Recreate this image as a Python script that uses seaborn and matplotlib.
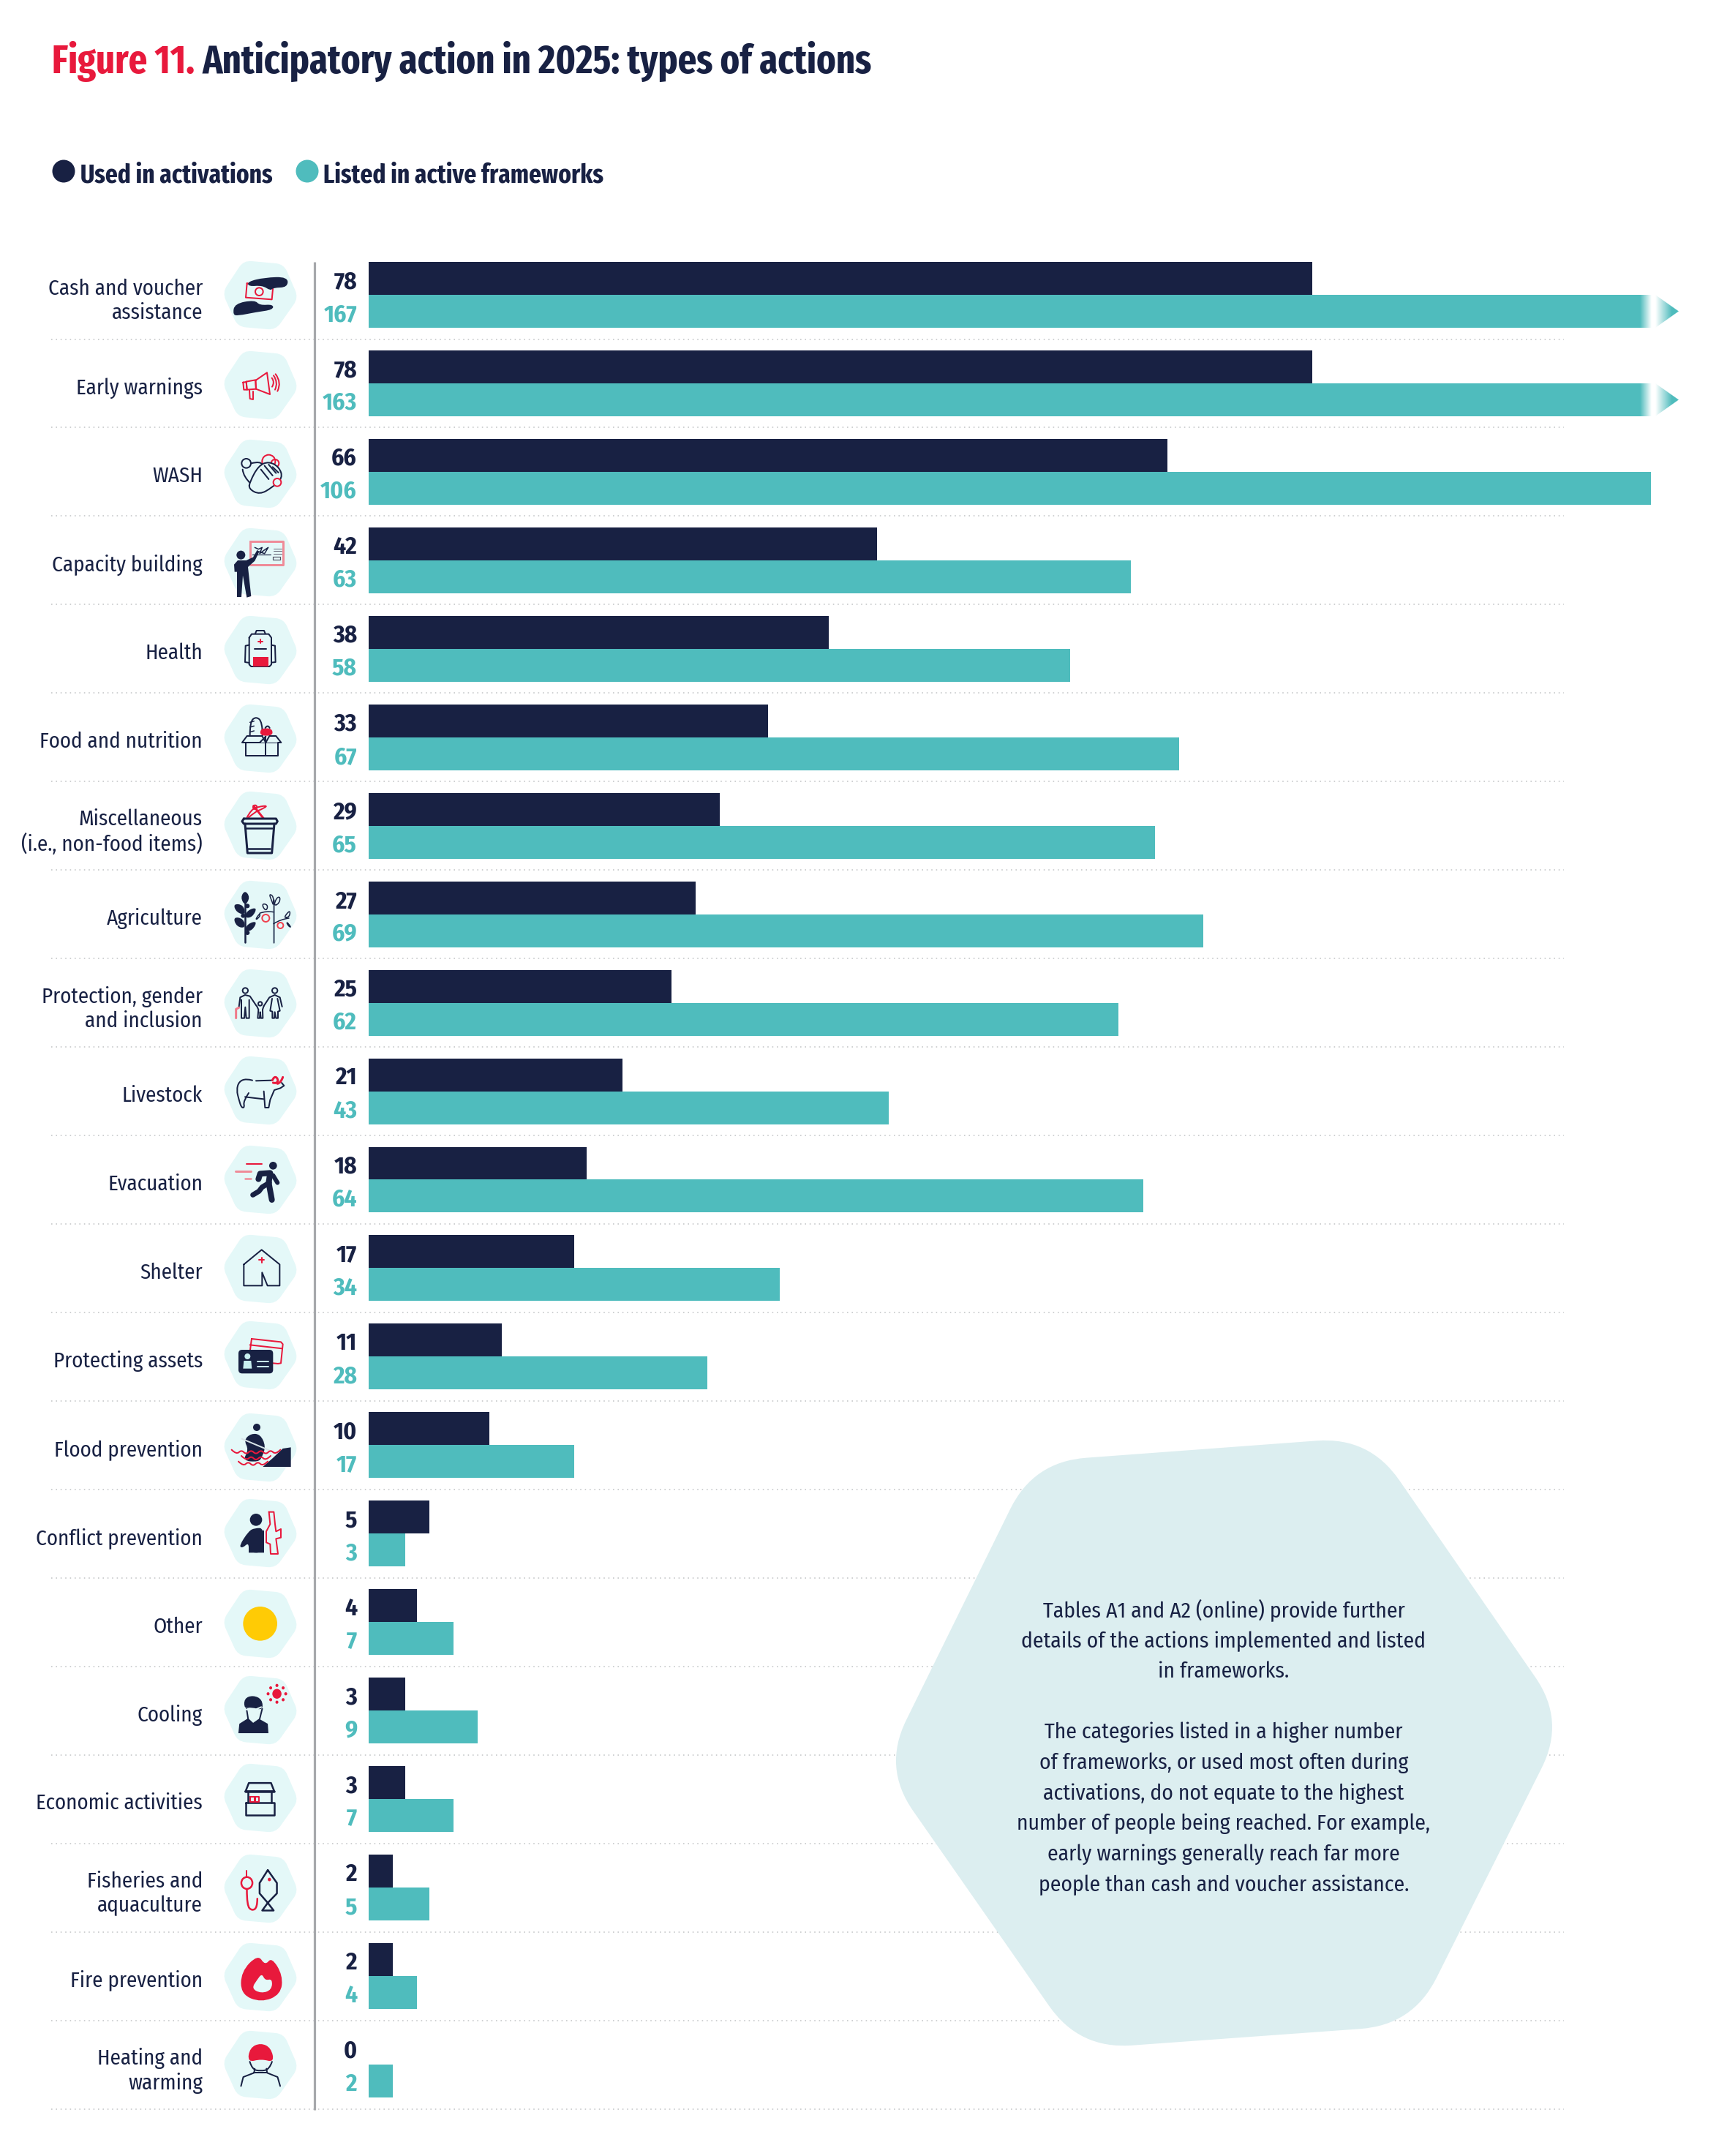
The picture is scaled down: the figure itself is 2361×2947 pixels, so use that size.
import numpy as np
import pandas as pd
import matplotlib
matplotlib.use("Agg")
import matplotlib.pyplot as plt
import seaborn as sns
from matplotlib.colors import LinearSegmentedColormap
from matplotlib.patches import Circle, Ellipse, PathPatch, Polygon, Rectangle
from matplotlib.path import Path
from matplotlib.transforms import ScaledTranslation

W, H = 2361, 2947
DPI = 200

NAVY = "#182143"
TEAL = "#4fbcbd"
RED = "#e8193c"
HEX_FILL = "#e4f8f8"
BOX_FILL = "#dceef0"
COND = ["Fira Sans Condensed", "Roboto", "DejaVu Sans"]
XCOND = ["Fira Sans Extra Condensed", "Fira Sans Condensed", "Roboto", "DejaVu Sans"]

actions = [
    "Cash and voucher\nassistance", "Early warnings", "WASH", "Capacity building",
    "Health", "Food and nutrition", "Miscellaneous\n(i.e., non-food items)",
    "Agriculture", "Protection, gender\nand inclusion", "Livestock", "Evacuation",
    "Shelter", "Protecting assets", "Flood prevention", "Conflict prevention",
    "Other", "Cooling", "Economic activities", "Fisheries and\naquaculture",
    "Fire prevention", "Heating and\nwarming",
]
used_in_activations = [78, 78, 66, 42, 38, 33, 29, 27, 25, 21, 18, 17, 11, 10, 5, 4, 3, 3, 2, 2, 0]
listed_in_frameworks = [167, 163, 106, 63, 58, 67, 65, 69, 62, 43, 64, 34, 28, 17, 3, 7, 9, 7, 5, 4, 2]
series_names = ["Used in activations", "Listed in active frameworks"]

# top edge of each icon hexagon, they wander a little in the original
hex_tops = [356, 479, 600, 721, 841, 962, 1081, 1203, 1324, 1443, 1565, 1687,
            1805, 1931, 2048, 2172, 2290, 2410, 2534, 2655, 2775]

note = ("Tables A1 and A2 (online) provide further\n"
        "details of the actions implemented and listed\n"
        "in frameworks.\n\n"
        "The categories listed in a higher number\n"
        "of frameworks, or used most often during\n"
        "activations, do not equate to the highest\n"
        "number of people being reached. For example,\n"
        "early warnings generally reach far more\n"
        "people than cash and voucher assistance.")

# where the long bars are cut, in axis units
FADE_START = 105.1
FADE_END = 106.05
ARROW_START = 106.35
ARROW_TIP = 108.28

sns.set_theme(style="white")
plt.rcParams["font.family"] = COND

fig = plt.figure(figsize=(W / DPI, H / DPI), dpi=DPI, facecolor="white")

# background layer in pixel coordinates
bg = fig.add_axes([0, 0, 1, 1], zorder=0)
bg.set_xlim(0, W)
bg.set_ylim(H, 0)
bg.axis("off")


def rounded_polygon(verts, r):
    verts = np.asarray(verts, float)
    n = len(verts)
    codes, pts = [], []
    for i in range(n):
        p, a, b = verts[i], verts[i - 1], verts[(i + 1) % n]
        start = p + (a - p) / np.linalg.norm(a - p) * r
        end = p + (b - p) / np.linalg.norm(b - p) * r
        codes += [Path.MOVETO if i == 0 else Path.LINETO, Path.CURVE3, Path.CURVE3]
        pts += [start, p, end]
    codes.append(Path.CLOSEPOLY)
    pts.append(pts[0])
    return Path(pts, codes)


class Crop:

    def __init__(self, x0, y0, sx, sy):
        self.x0, self.y0, self.sx, self.sy = x0, y0, sx, sy

    def map(self, pts):
        return [(self.x0 + x / self.sx, self.y0 + y / self.sy) for x, y in pts]

    def line(self, pts, color=NAVY, lw=2.0, closed=False, fill="none", smooth=False):
        xy = self.map(pts)
        if smooth:
            if closed:
                mids = [((xy[i][0] + xy[(i + 1) % len(xy)][0]) / 2,
                         (xy[i][1] + xy[(i + 1) % len(xy)][1]) / 2) for i in range(len(xy))]
                verts, codes = [mids[-1]], [Path.MOVETO]
                for i in range(len(xy)):
                    verts += [xy[i], mids[i]]
                    codes += [Path.CURVE3, Path.CURVE3]
            else:
                verts, codes = [xy[0]], [Path.MOVETO]
                for i in range(1, len(xy) - 1):
                    end = ((xy[i][0] + xy[i + 1][0]) / 2, (xy[i][1] + xy[i + 1][1]) / 2)
                    if i == len(xy) - 2:
                        end = xy[-1]
                    verts += [xy[i], end]
                    codes += [Path.CURVE3, Path.CURVE3]
            path = Path(verts, codes)
        else:
            if closed:
                xy = xy + [xy[0]]
            path = Path(xy)
        bg.add_patch(PathPatch(path, facecolor=fill, edgecolor=color if lw else "none",
                               lw=lw * 72 / DPI, capstyle="round", joinstyle="round", zorder=3))

    def blob(self, pts, color=NAVY):
        self.line(pts, color=color, lw=0, closed=True, fill=color, smooth=True)

    def shape(self, pts, color=NAVY):
        self.line(pts, color=color, lw=0, closed=True, fill=color)

    def circle(self, x, y, r, color=NAVY, fill="none", lw=2.0):
        (cx, cy), = self.map([(x, y)])
        bg.add_patch(Ellipse((cx, cy), 2 * r / self.sx, 2 * r / self.sy, facecolor=fill,
                             edgecolor=color if lw else "none", lw=lw * 72 / DPI, zorder=3))

    def rect(self, x0, y0, x1, y1, color=NAVY, fill="none", lw=2.0):
        self.line([(x0, y0), (x1, y0), (x1, y1), (x0, y1)], color=color, lw=lw, closed=True, fill=fill)


z1 = Crop(290, 340, 3, 3)
z2 = Crop(290, 840, 3, 3)
z3 = Crop(290, 1340, 3, 3)
z4 = Crop(290, 1800, 3, 3)
z5 = Crop(0, 2200, 2.24, 2.1)


def draw_icons():
    # cash
    z1.line([(143, 142), (250, 155), (245, 208), (138, 200)], color=RED, closed=True)
    z1.circle(193, 176, 16, color=RED)
    z1.blob([(145, 135), (215, 118), (310, 115), (310, 158), (250, 160), (240, 172), (205, 150), (150, 155)])
    z1.blob([(85, 270), (92, 225), (175, 210), (195, 232), (250, 228), (250, 250), (180, 260), (105, 275)])
    # megaphone
    z1.line([(178, 540), (225, 508), (237, 597), (180, 575)], color=RED, closed=True)
    z1.line([(140, 545), (178, 538), (180, 575), (143, 578)], color=RED, closed=True)
    z1.line([(127, 548), (140, 546), (143, 578), (130, 578)], color=RED, closed=True)
    z1.line([(153, 580), (155, 615), (168, 618), (168, 585)], color=RED)
    z1.line([(245, 530), (258, 547), (246, 566)], color=RED, smooth=True)
    z1.line([(252, 520), (272, 548), (258, 578)], color=RED, smooth=True)
    z1.line([(260, 514), (286, 548), (268, 584)], color=RED, smooth=True)
    # hands
    z1.circle(232, 872, 27, color=RED)
    z1.circle(258, 880, 16, color=RED)
    z1.circle(140, 880, 19)
    z1.line([(125, 905), (128, 935), (160, 965)], smooth=True)
    z1.line([(160, 880), (200, 870), (205, 885)], smooth=True)
    z1.line([(155, 955), (190, 890), (232, 872), (275, 895), (290, 940), (245, 980), (195, 1008), (150, 985)],
            closed=True, smooth=True, fill=HEX_FILL)
    for a, b in [((215, 890), (248, 930)), ((232, 885), (262, 920)), ((248, 895), (272, 918)), ((200, 905), (232, 945))]:
        z1.line([a, b])
    z1.circle(267, 958, 16, color=RED, fill=HEX_FILL)
    # capacity building
    z1.rect(157, 1200, 292, 1296, color="#ef8b98", lw=3.0, fill=HEX_FILL)
    z1.line([(175, 1225), (190, 1232), (205, 1225), (195, 1250), (215, 1235), (230, 1225), (215, 1250), (185, 1240)], lw=1.5)
    z1.line([(165, 1255), (240, 1255)], lw=1.2)
    for y in (1230, 1240, 1250):
        z1.line([(252, y), (285, y)], lw=1.0, color="#667")
    z1.rect(250, 1262, 280, 1276, lw=1.2, color="#556")
    z1.circle(118, 1256, 18, fill=NAVY, lw=0)
    z1.shape([(90, 1295), (105, 1278), (140, 1278), (168, 1265), (185, 1235), (192, 1245), (175, 1280),
              (147, 1305), (160, 1425), (142, 1430), (126, 1340), (120, 1428), (102, 1428), (102, 1325), (92, 1325)])
    # backpack
    z2.line([(152, 95), (162, 80), (232, 80), (243, 95), (243, 205), (235, 213), (160, 213), (152, 205)], closed=True)
    z2.line([(177, 78), (182, 66), (213, 66), (218, 78)])
    z2.line([(152, 125), (137, 128), (135, 195), (152, 198)])
    z2.line([(243, 125), (258, 128), (260, 195), (243, 197)])
    z2.rect(167, 175, 230, 212, color=RED, fill=RED, lw=0)
    z2.line([(175, 142), (222, 142)])
    z2.line([(190, 110), (206, 110)], color=RED)
    z2.line([(198, 102), (198, 118)], color=RED)
    # food box
    z2.line([(155, 495), (155, 440), (180, 418), (206, 440), (207, 495)], smooth=True)
    for y in (442, 462, 482):
        z2.line([(155, y), (172, y - 5)], lw=1.5)
    z2.blob([(197, 497), (198, 470), (225, 465), (248, 472), (247, 497)], color=RED)
    z2.line([(218, 465), (228, 450), (236, 465)], smooth=True)
    z2.rect(137, 525, 270, 578)
    z2.line([(137, 525), (123, 525), (143, 498), (205, 498), (220, 525)], fill=HEX_FILL)
    z2.line([(220, 525), (235, 498), (262, 498), (283, 525), (270, 525)], fill=HEX_FILL)
    z2.line([(137, 525), (195, 525), (220, 500)])
    z2.line([(220, 500), (220, 578)])
    # bucket and pick
    z2.line([(143, 832), (160, 800), (190, 788), (230, 783), (200, 800), (175, 810), (150, 832)], color=RED, smooth=True)
    z2.line([(170, 785), (210, 835)], color=RED, lw=3)
    z2.circle(176, 790, 8, color=RED)
    z2.line([(130, 837), (262, 837), (268, 848), (262, 858), (130, 858), (123, 848)], closed=True, lw=3, fill=HEX_FILL)
    z2.line([(135, 858), (145, 978), (245, 978), (255, 858)], lw=3)
    z2.line([(137, 875), (245, 875)], lw=2.5)
    z2.line([(147, 960), (237, 960)], lw=2.5)
    # agriculture
    z2.line([(135, 1170), (135, 1345)], lw=2.5)
    z2.blob([(135, 1130), (156, 1160), (135, 1195), (116, 1160)])
    z2.blob([(86, 1186), (128, 1190), (138, 1232), (100, 1222)])
    z2.blob([(186, 1200), (165, 1242), (132, 1244), (145, 1212)])
    z2.blob([(86, 1240), (128, 1246), (138, 1286), (100, 1280)])
    z2.blob([(186, 1256), (165, 1296), (132, 1300), (145, 1268)])
    z2.circle(145, 1195, 9, fill=NAVY, lw=0)
    z2.circle(127, 1235, 9, fill=NAVY, lw=0)
    z2.circle(145, 1305, 9, fill=NAVY, lw=0)
    z2.line([(252, 1170), (252, 1345)], color="#5a6a80", lw=2.5)
    z2.line([(252, 1195), (245, 1175), (233, 1145), (252, 1155)], closed=True, smooth=True, lw=1.5)
    z2.line([(252, 1195), (265, 1160), (280, 1158), (275, 1185)], closed=True, smooth=True, lw=1.5)
    z2.line([(205, 1185), (228, 1190), (225, 1212), (212, 1208)], closed=True, smooth=True, lw=1.5)
    z2.line([(178, 1250), (195, 1225), (197, 1235), (186, 1248)], closed=True, smooth=True, lw=1.5)
    z2.line([(195, 1225), (220, 1215), (252, 1220)], lw=1.5, smooth=True)
    z2.line([(252, 1268), (280, 1250), (315, 1245)], lw=1.5, smooth=True)
    z2.line([(292, 1245), (320, 1210), (318, 1240)], closed=True, smooth=True, lw=1.5)
    z2.line([(305, 1258), (326, 1285), (310, 1275)], closed=True, smooth=True, lw=1.5)
    z2.circle(220, 1245, 15, color="#f0414f")
    z2.circle(280, 1275, 12, color="#f0414f")
    # family
    z3.circle(136, 42, 11)
    z3.circle(257, 42, 11)
    z3.circle(197, 96, 8)
    z3.line([(110, 108), (115, 70), (135, 60), (155, 65), (182, 105)], lw=2)
    z3.line([(120, 80), (120, 155), (132, 155), (136, 110), (140, 155), (152, 155), (152, 80)], lw=2)
    z3.line([(98, 155), (98, 118), (110, 112)], color="#ef7a8a", lw=3)
    z3.line([(212, 105), (235, 70), (257, 60), (278, 70), (287, 108)], lw=2)
    z3.line([(246, 75), (238, 125), (247, 128), (247, 155), (255, 155), (257, 130), (262, 155), (270, 155), (270, 128), (278, 125), (268, 75)], lw=2)
    z3.line([(183, 105), (190, 120), (187, 155), (195, 155), (197, 130), (200, 155), (208, 155), (207, 120), (212, 105)], lw=2)
    # cow
    z3.line([(165, 410), (140, 403), (110, 415), (100, 450), (110, 490), (120, 522), (133, 522), (128, 495), (150, 462)], smooth=True)
    z3.line([(180, 412), (245, 410)])
    z3.line([(135, 478), (175, 483), (212, 487)], smooth=True)
    z3.line([(212, 455), (217, 522), (232, 522), (238, 490), (255, 450), (280, 442), (295, 432), (285, 420)])
    z3.line([(247, 410), (255, 392), (272, 405), (265, 424), (250, 420)], color=RED, lw=3, smooth=True)
    z3.line([(268, 424), (282, 420), (290, 397)], color=RED, lw=3, smooth=True)
    # evacuation
    z3.line([(140, 753), (203, 753)], color=RED)
    z3.line([(97, 782), (160, 782)], color="#ef8b98", lw=3)
    z3.line([(135, 812), (160, 812)], color="#ef8b98", lw=2.5)
    z3.circle(250, 760, 16, fill=NAVY, lw=0)
    for pts, lw in [([(190, 815), (197, 793), (238, 790), (232, 830), (245, 900)], 8),
                    ([(235, 830), (205, 848), (192, 865), (167, 880)], 7),
                    ([(250, 800), (268, 830)], 6)]:
        z3.line(pts, lw=lw)
    # tent
    z3.line([(130, 1165), (203, 1105), (277, 1165), (277, 1252), (227, 1252), (205, 1198), (205, 1252), (130, 1252)], closed=True)
    z3.line([(192, 1147), (214, 1147)], color=RED)
    z3.line([(203, 1136), (203, 1158)], color=RED)
    # protecting assets
    z4.line([(162, 90), (282, 103), (290, 112), (282, 190), (270, 192), (150, 180)], color=RED, closed=True)
    z4.line([(155, 115), (288, 130)], color=RED)
    bg.add_patch(PathPatch(rounded_polygon(z4.map([(108, 135), (250, 135), (250, 232), (108, 232)]), 5),
                           facecolor=NAVY, edgecolor="none", zorder=3))
    z4.circle(145, 162, 12, fill="#c8eef0", lw=0)
    z4.shape([(127, 212), (130, 180), (160, 180), (163, 212)], color="#c8eef0")
    z4.line([(185, 182), (230, 182)], color="#c8eef0")
    z4.line([(185, 205), (230, 205)], color="#c8eef0")
    # flood
    z4.circle(183, 453, 15, fill=NAVY, lw=0)
    z4.blob([(130, 505), (160, 478), (198, 482), (220, 530), (205, 575), (190, 595), (125, 590), (150, 545)])
    z4.shape([(208, 615), (250, 578), (290, 540), (323, 535), (323, 615)])
    z4.line([(122, 500), (260, 558)], color="#d8e4e8", lw=2)
    for y0, x0, x1 in [(555, 80, 285), (580, 120, 245), (603, 108, 232)]:
        xs = np.arange(x0, x1 + 1, 20)
        z4.line([(x, y0 + (10 if i % 2 else -10)) for i, x in enumerate(xs)], color=RED, lw=2, smooth=True)
    # conflict
    z4.circle(180, 832, 25, fill=NAVY, lw=0)
    z4.blob([(110, 940), (150, 878), (175, 866), (213, 866), (213, 967), (150, 967), (150, 925), (125, 948)])
    z4.shape([(150, 900), (213, 875), (213, 967), (150, 967)])
    z4.line([(233, 800), (253, 800), (258, 850), (262, 880), (282, 870), (282, 905), (262, 910), (270, 972),
             (240, 972), (238, 932), (222, 925), (222, 880), (238, 850)], color=RED, closed=True)
    # other
    z4.circle(197, 1258, 70, fill="#ffcb05", lw=0)
    # cooling
    z5.shape([(730, 355), (733, 328), (760, 312), (790, 312), (820, 328), (822, 355)])
    z5.line([(755, 285), (760, 315), (775, 328), (795, 315), (803, 285)], fill=HEX_FILL, lw=2)
    z5.blob([(748, 285), (748, 255), (775, 246), (803, 258), (805, 290), (770, 280)])
    z5.line([(742, 285), (775, 290), (800, 280)], color="#e4f8f8", lw=2)
    z5.circle(848, 242, 14, fill=RED, lw=0)
    for a in range(0, 360, 45):
        z5.circle(848 + 27 * np.cos(np.radians(a)), 242 + 24 * np.sin(np.radians(a)), 4.5, fill=RED, lw=0)
    # market
    z5.rect(752, 555, 840, 590, lw=2.5)
    z5.line([(760, 522), (760, 555)], lw=2.5)
    z5.line([(832, 522), (832, 555)], lw=2.5)
    z5.line([(752, 522), (762, 498), (830, 498), (840, 522)], closed=True, lw=2.5)
    z5.line([(752, 522), (840, 522)], lw=3.5)
    for x in (773, 788):
        z5.rect(x - 6, 538, x + 6, 553, color=RED, lw=2)
    # fisheries
    z5.circle(756, 785, 17, color=RED, lw=2.5)
    z5.line([(756, 750), (756, 767)], color=RED)
    z5.line([(756, 805), (756, 850), (772, 865), (788, 855), (788, 830)], color=RED, lw=2.5, smooth=True)
    z5.line([(820, 748), (848, 785), (848, 815), (820, 842), (795, 815), (795, 785)], closed=True, lw=2.5)
    z5.line([(820, 842), (803, 864), (838, 864)], closed=True, lw=2.5)
    z5.circle(825, 775, 5, fill=RED, lw=0)
    # fire
    z5.blob([(790, 990), (812, 1022), (832, 998), (866, 1050), (860, 1105), (800, 1128), (738, 1105), (738, 1040)], color=RED)
    z5.blob([(802, 1045), (812, 1065), (834, 1060), (832, 1092), (800, 1102), (770, 1088), (788, 1062)], color=HEX_FILL)
    # heating
    z5.line([(738, 1368), (745, 1342), (778, 1330), (780, 1318)], lw=2)
    z5.line([(858, 1368), (850, 1342), (818, 1330), (816, 1318)], lw=2)
    z5.line([(778, 1330), (818, 1330)], lw=2)
    z5.line([(765, 1298), (772, 1320), (798, 1325), (825, 1320), (833, 1298)], lw=2, smooth=True)
    z5.blob([(758, 1300), (765, 1258), (798, 1244), (830, 1258), (840, 1300), (800, 1290)], color=RED)


# dotted separators
pitch = 120.95
for i in range(len(actions)):
    bg.plot([70, 2138], [463.5 + i * pitch] * 2, color="#c4c6c8", lw=1.6 * 72 / DPI,
            dashes=(1, 3.0), dash_capstyle="butt", zorder=1)

# vertical rule
bg.plot([430, 430], [358, 2884], color="#a6a8ab", lw=3.2 * 72 / DPI, solid_capstyle="butt", zorder=2)

# icon hexagons
hex_offsets = np.array([(-52, -3.5), (-23, -47.5), (32, -42.5), (52, 3.5), (21, 47.5), (-31, 43)], float)
for top in hex_tops:
    verts = hex_offsets + (356, top + 47.5)
    bg.add_patch(PathPatch(rounded_polygon(verts, 11), facecolor=HEX_FILL, edgecolor="none", zorder=2))

draw_icons()

# call-out box
box = [(1413, 1998), (1872, 1964), (2140, 2352), (1931.5, 2768), (1475.5, 2801), (1207, 2416)]
bg.add_patch(PathPatch(rounded_polygon(box, 72), facecolor=BOX_FILL, edgecolor="none", zorder=2))
bg.text(1673, 2388, note, ha="center", va="center", multialignment="center", color=NAVY,
        fontsize=10.7, linespacing=1.58, zorder=4)

# title and legend
bg.text(71, 100, "Figure 11.", color=RED, fontsize=19.7, fontweight="bold", va="baseline", family=XCOND)
bg.text(276, 100, "Anticipatory action in 2025: types of actions", color=NAVY, fontsize=19.7,
        fontweight="bold", va="baseline", family=XCOND)
for cx, tx, color, label in [(87, 110, NAVY, series_names[0]), (420, 442, TEAL, series_names[1])]:
    bg.add_patch(Circle((cx, 234), 15.5, facecolor=color, edgecolor="none"))
    bg.text(tx, 249, label, color=NAVY, fontsize=13, fontweight="bold", va="baseline", family=XCOND)

# the bars
df = pd.DataFrame({"action": actions,
                   series_names[0]: used_in_activations,
                   series_names[1]: listed_in_frameworks})
long_df = df.melt(id_vars="action", var_name="series", value_name="count")

ax_top, ax_bottom = 342.5, 2882.5
ax = fig.add_axes([504 / W, 1 - ax_bottom / H, (W - 504) / W, (ax_bottom - ax_top) / H], zorder=1)
ax.patch.set_alpha(0)
sns.barplot(data=long_df, y="action", x="count", hue="series", order=actions, hue_order=series_names,
            palette=[NAVY, TEAL], width=0.744, gap=0, saturation=1, errorbar=None, legend=False,
            orient="y", linewidth=0, ax=ax)
sns.despine(ax=ax, left=True, bottom=True)
ax.set(xlabel="", ylabel="", xticks=[])
xlim = (0, (W - 504) / 16.54)
ylim = (20.5, -0.5)
ax.set_xlim(*xlim)
ax.set_ylim(*ylim)
ax.tick_params(axis="y", length=0, pad=(504 - 277) * 72 / DPI, labelsize=10.45, labelcolor=NAVY)
nudge = ScaledTranslation(0, -3 / DPI, fig.dpi_scale_trans)
for lab in ax.get_yticklabels():
    lab.set_linespacing(1.22)
    lab.set_ha("right")
    lab.set_transform(lab.get_transform() + nudge)

# value labels
for container, values, color in zip(ax.containers, [used_in_activations, listed_in_frameworks], [NAVY, TEAL]):
    for bar, val in zip(container, values):
        ax.annotate(str(val), (0, bar.get_y() + bar.get_height() / 2),
                    xytext=(-16 * 72 / DPI, -1.7), textcoords="offset points", ha="right", va="center",
                    color=color, fontsize=12, fontweight="bold", annotation_clip=False)

# bars that run off the scale fade out and end in an arrow
to_white = LinearSegmentedColormap.from_list("fade", [TEAL, "white"])
from_white = LinearSegmentedColormap.from_list("arrow", ["white", TEAL])
for bar, val in zip(ax.containers[1], listed_in_frameworks):
    if val <= ARROW_TIP:
        continue
    y0, h = bar.get_y(), bar.get_height()
    bar.set_clip_path(Rectangle((0, y0), FADE_START, h, transform=ax.transData))
    ax.imshow(np.linspace(0, 1, 64)[None, :], cmap=to_white, vmin=0, vmax=1, aspect="auto",
              extent=(FADE_START, FADE_END, y0 + h, y0), zorder=3, interpolation="bilinear")
    im = ax.imshow(np.clip(np.linspace(0, 1.4, 64), 0, 1)[None, :], cmap=from_white, vmin=0, vmax=1,
                   aspect="auto", extent=(ARROW_START, ARROW_TIP, y0 + h, y0), zorder=3, interpolation="bilinear")
    im.set_clip_path(Polygon([(ARROW_START, y0), (ARROW_TIP, y0 + h / 2), (ARROW_START, y0 + h)],
                             transform=ax.transData))
ax.set_xlim(*xlim)
ax.set_ylim(*ylim)

fig.savefig("out.png", dpi=DPI)
